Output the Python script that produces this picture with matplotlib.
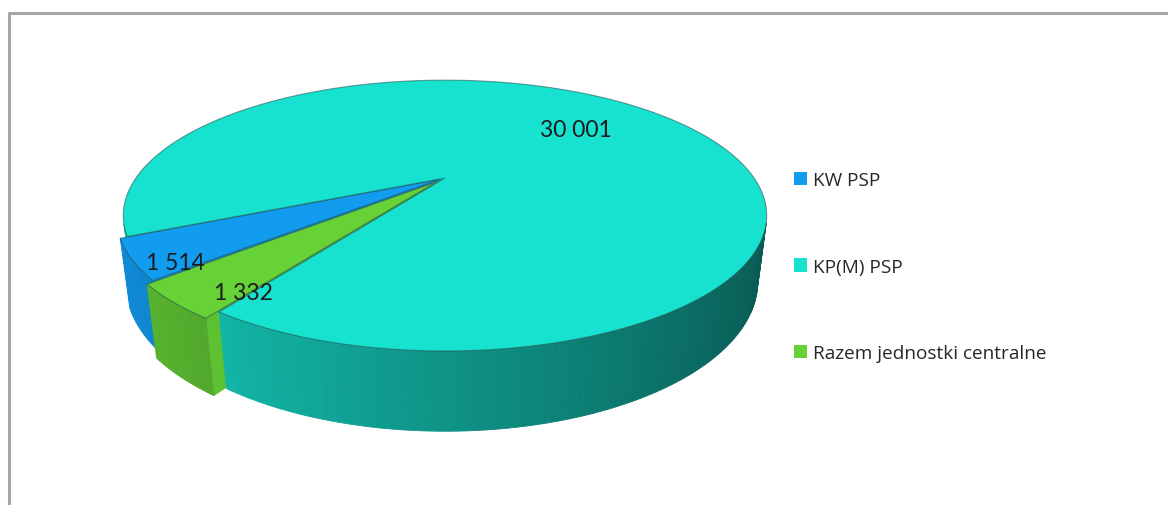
import numpy as np
import matplotlib.pyplot as plt
from matplotlib.patches import Polygon, Patch
from matplotlib.colors import to_rgb

# data
labels = ['KW PSP', 'KP(M) PSP', 'Razem jednostki centralne']
values = [1514, 30001, 1332]
value_text = ['1 514', '30 001', '1 332']
colors = ['#119cf0', '#16e2cf', '#66d236']

# layout of the fake 3d pie (pixel space)
W, H = 1168, 506
CX, CY = 445, 179
SX, SY = 1023, 1046
DIST = 3.31
ELEV = np.radians(23.3)
THICK = 0.223
START = 221.1
EXPLODE = [0.02, 0.0, 0.04]
label_pos = [(175, 263), (576, 130), (243, 294)]

sn, cs = np.sin(ELEV), np.cos(ELEV)
cam = np.array([0.0, DIST * sn, DIST * cs])


def proj(x, y, z):
    depth = DIST - y * sn - z * cs
    up = y * cs - z * sn
    return CX + SX * x / depth, CY - SY * up / depth, depth


def world(t, r, y, off):
    t = np.radians(t)
    return np.array([off[0] + r * np.cos(t), y, off[1] - r * np.sin(t)])


def shade(col, f):
    return tuple(np.clip(np.array(to_rgb(col)) * f, 0, 1))


def wall_factor(t):
    return 0.65 - 0.27 * np.cos(np.radians(t))


fig = plt.figure(figsize=(W / 100, H / 100), dpi=100)
ax = fig.add_axes([0, 0, 1, 1])
ax.set_xlim(0, W)
ax.set_ylim(H, 0)
ax.axis('off')

# chart frame (only top and left visible in the crop)
ax.plot([9, 9, W], [H, 14, 14], color='#a6a6a6', lw=2.2, solid_capstyle='butt')

frac = np.array(values) / np.sum(values)
cum = np.concatenate([[0], np.cumsum(frac)])

faces = []
tops = []
for i, col in enumerate(colors):
    t1 = START - cum[i + 1] * 360
    t2 = START - cum[i] * 360
    tm = np.radians((t1 + t2) / 2)
    off = (EXPLODE[i] * np.cos(tm), -EXPLODE[i] * np.sin(tm))
    n = max(int(abs(t2 - t1)), 4)
    ts = np.linspace(t1, t2, n + 1)

    # top face
    pts = [proj(*world(0, 0, 0, off))[:2]] + [proj(*world(t, 1, 0, off))[:2] for t in ts]
    tops.append((pts, col))

    # outer wall
    for a, b in zip(ts[:-1], ts[1:]):
        m = (a + b) / 2
        p = world(m, 1, 0, off)
        nrm = np.array([np.cos(np.radians(m)), 0, -np.sin(np.radians(m))])
        if np.dot(nrm, cam - p) <= 0:
            continue
        quad = [proj(*world(a, 1, 0, off))[:2], proj(*world(b, 1, 0, off))[:2],
                proj(*world(b, 1, -THICK, off))[:2], proj(*world(a, 1, -THICK, off))[:2]]
        dep = proj(*world(m, 1, -THICK / 2, off))[2]
        faces.append((dep, quad, shade(col, wall_factor(m))))

    # radial cut faces
    for t, sgn in ((t1, -1), (t2, 1)):
        tr = np.radians(t)
        nrm = sgn * np.array([-np.sin(tr), 0, -np.cos(tr)])
        p = world(t, 0.5, 0, off)
        if np.dot(nrm, cam - p) <= 0:
            continue
        quad = [proj(*world(0, 0, 0, off))[:2], proj(*world(t, 1, 0, off))[:2],
                proj(*world(t, 1, -THICK, off))[:2], proj(*world(0, 0, -THICK, off))[:2]]
        dep = proj(*world(t, 0.5, -THICK / 2, off))[2]
        faces.append((dep, quad, shade(col, 0.92)))

for dep, quad, c in sorted(faces, key=lambda f: -f[0]):
    ax.add_patch(Polygon(quad, closed=True, facecolor=c, edgecolor=c, lw=0.6))

for pts, col in tops:
    ax.add_patch(Polygon(pts, closed=True, facecolor=col,
                         edgecolor=(0.15, 0.3, 0.3, 0.55), lw=0.8))

for (x, y), txt in zip(label_pos, value_text):
    ax.text(x, y, txt, fontsize=16.5, family='Lato', color='#1c1c1c',
            ha='center', va='center')

handles = [Patch(facecolor=c, edgecolor='none') for c in colors]
ax.legend(handles, labels, loc='upper left', bbox_to_anchor=(794 / W, 1 - 172 / H),
          bbox_transform=fig.transFigure, frameon=False,
          prop={'family': 'Open Sans', 'size': 13.7}, handlelength=0.7,
          handleheight=0.7, handletextpad=0.3, labelspacing=3.6,
          borderpad=0, borderaxespad=0, labelcolor='#262626')

fig.savefig('out.png', dpi=100, facecolor='white')
